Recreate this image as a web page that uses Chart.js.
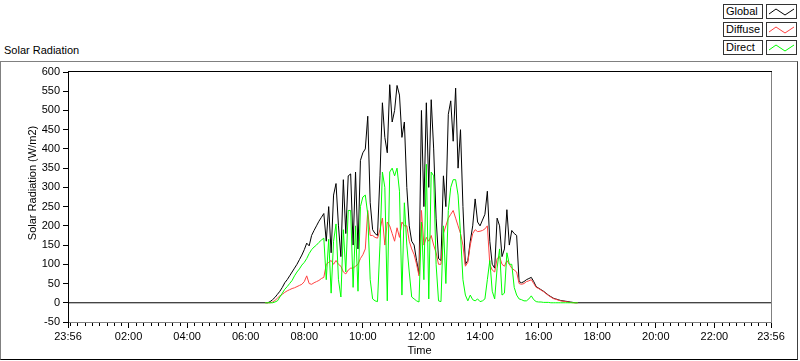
<!doctype html>
<html>
<head>
<meta charset="utf-8">
<title>Solar Radiation</title>
<script src="https://cdn.jsdelivr.net/npm/chart.js@4.4.1/dist/chart.umd.min.js"></script>
<style>
    body { margin: 0; background: #fff; font-family: "Liberation Sans", Arial, sans-serif; font-size: 11px; color: #000; }
    #wrap { position: relative; width: 800px; height: 361px; overflow: hidden; }
    #frame { position: absolute; left: 0; top: 61px; width: 796px; height: 297px;
             border-top: 1px solid #808080; border-left: 1px solid #808080;
             border-right: 1px solid #404040; border-bottom: 1px solid #000; }
    #chart { position: absolute; left: 0; top: 0; }
    #title { position: absolute; left: 4px; top: 44px; line-height: 13px; }
    .lab, .sw { position: absolute; height: 15px; border: 1px solid #333; background: #fff; box-sizing: border-box; }
    .lab { left: 723px; width: 40px; line-height: 13px; padding-left: 2px; }
    .sw { left: 766px; width: 31px; }
</style>
</head>
<body>
<div id="wrap">
    <div id="frame"></div>
    <div id="title">Solar Radiation</div>
    <div id="legend"></div>
    <canvas id="chart" width="800" height="361"></canvas>
</div>

<script>
// minutes after midnight, day samples every 5 minutes from 06:40 to 17:20
var firstSample = 400;
var sampleStep = 5;
var axisStart = -4;    // 23:56 of the previous day
var axisEnd = 1436;    // 23:56

var tickMinutes = [-4, 120, 240, 360, 480, 600, 720, 840, 960, 1080, 1200, 1320, 1436];
var tickLabels = ["23:56", "02:00", "04:00", "06:00", "08:00", "10:00", "12:00",
                  "14:00", "16:00", "18:00", "20:00", "22:00", "23:56"];

var seriesNames = ["Global", "Diffuse", "Direct"];
var seriesColors = ["#000000", "#ff4040", "#00ff00"];

// W/m2
var globalW = [
    0, 0, 3, 8,
    14, 22, 30, 40, 52, 60, 70, 80, 90, 100, 112, 124,
    138, 155, 148, 175, 188, 200, 212, 222, 232, 160, 250, 130,
    280, 310, 200, 120, 320, 180, 330, 335, 150, 340, 140, 370,
    390, 400, 485, 260, 190, 180, 175, 330, 520, 430, 390, 567,
    470, 500, 565, 540, 430, 470, 300, 200, 160, 150, 110, 75,
    500, 250, 520, 300, 528, 400, 220, 115, 110, 330, 250, 490,
    525, 420, 558, 350, 450, 250, 100, 110, 160, 200, 270, 210,
    200, 215, 230, 290, 160, 100, 90, 220, 200, 120, 140, 242,
    150, 188, 180, 175, 55, 52, 55, 60, 63, 66, 55, 42,
    38, 34, 30, 25, 20, 16, 12, 10, 8, 6, 5, 4,
    3, 2, 1, 0, 0
];

var diffuseW = [
    0, 0, 0, 2,
    6, 12, 18, 22, 27, 31, 34, 37, 39, 42, 45, 48,
    55, 70, 50, 48, 52, 55, 58, 63, 66, 100, 105, 110,
    100, 110, 100, 95, 80, 75, 85, 90, 90, 95, 100, 115,
    125, 140, 240, 175, 175, 170, 168, 190, 220, 150, 210, 200,
    180, 160, 195, 170, 210, 200, 200, 160, 140, 125, 100, 70,
    240, 150, 170, 160, 175, 150, 130, 100, 100, 180, 200, 220,
    230, 240, 220, 200, 180, 150, 95, 105, 150, 180, 190, 185,
    186, 188, 192, 200, 100, 85, 80, 115, 120, 100, 95, 110,
    100, 90, 85, 80, 50, 48, 50, 55, 57, 60, 50, 40,
    37, 33, 29, 24, 19, 15, 11, 9, 7, 5, 4, 3,
    2, 1, 0, 0, 0
];

var directW = [
    0, 0, 0, 0,
    2, 5, 15, 25, 35, 42, 50, 58, 70, 80, 88, 98,
    105, 115, 128, 138, 145, 150, 157, 163, 168, 60, 165, 25,
    160, 205, 60, 15, 190, 80, 240, 240, 40, 200, 30, 250,
    275, 280, 230, 60, 10, 5, 3, 150, 340, 300, 5, 340,
    350, 330, 350, 290, 20, 260, 150, 80, 15, 10, 5, 2,
    210, 60, 360, 10, 340, 330, 100, 5, 3, 200, 50, 240,
    300, 320, 320, 280, 180, 60, 20, 5, 20, 8, 5, 10,
    3, 5, 10, 60, 110, 30, 10, 90, 140, 20, 25, 130,
    100, 100, 40, 20, 10, 8, 5, 5, 10, 18, 8, 3,
    2, 2, 1, 1, 1, 0, 0, 0, 0, 0, 0, 0,
    0, 0, 0, 0, 0
];

function toPoints(values) {
    return values.map(function(v, i) { return {x: firstSample + i * sampleStep, y: v}; });
}

// global is logged all day long (zero at night), the other two only in daylight
var globalPoints = [{x: axisStart, y: 0}].concat(toPoints(globalW), [{x: axisEnd, y: 0}]);

// legend boxes
var legend = document.getElementById("legend");
seriesNames.forEach(function(name, i) {
    var top = 4 + i * 18;
    legend.insertAdjacentHTML("beforeend",
        '<div class="lab" style="top:' + top + 'px">' + name + '</div>' +
        '<div class="sw" style="top:' + top + 'px"><svg width="29" height="13">' +
        '<polyline points="2,9 9,4 18,10 27,4" fill="none" stroke="' + seriesColors[i] + '" stroke-width="1"/></svg></div>');
});

var FONT = {family: '"Liberation Sans", Arial, sans-serif', size: 11};
Chart.defaults.font = FONT;
Chart.defaults.color = "#000";

var frameLines = {
    id: "frameLines",
    afterDraw: function(chart) {
        var ctx = chart.ctx, a = chart.chartArea, x = chart.scales.x;
        ctx.save();
        ctx.lineWidth = 1;
        // top edge black, right edge grey
        ctx.strokeStyle = "#000";
        ctx.beginPath();
        ctx.moveTo(a.left, a.top - 0.5);
        ctx.lineTo(a.right + 1, a.top - 0.5);
        ctx.stroke();
        ctx.strokeStyle = "#808080";
        ctx.beginPath();
        ctx.moveTo(a.right + 0.5, a.top);
        ctx.lineTo(a.right + 0.5, a.bottom);
        ctx.stroke();
        // minor ticks every 15 minutes
        ctx.strokeStyle = "#000";
        ctx.beginPath();
        for (var m = 0; m < axisEnd; m += 15) {
            if (tickMinutes.indexOf(m) >= 0) continue;
            var px = Math.round(x.getPixelForValue(m)) + 0.5;
            ctx.moveTo(px, a.bottom + 1);
            ctx.lineTo(px, a.bottom + 4);
        }
        ctx.stroke();
        // y axis title
        ctx.fillStyle = "#000";
        ctx.font = '11px "Liberation Sans", Arial, sans-serif';
        ctx.translate(33, 183);
        ctx.rotate(-Math.PI / 2);
        ctx.textAlign = "center";
        ctx.textBaseline = "middle";
        ctx.fillText("Solar Radiation (W/m2)", 0, 0);
        ctx.restore();
    }
};

function lineSet(i, data, order) {
    return {
        label: seriesNames[i],
        data: data,
        borderColor: seriesColors[i],
        backgroundColor: seriesColors[i],
        borderWidth: 1,
        pointRadius: 0,
        tension: 0,
        fill: false,
        order: order
    };
}

new Chart(document.getElementById("chart"), {
    type: "line",
    data: {
        datasets: [
            lineSet(0, globalPoints, 3),
            lineSet(1, toPoints(diffuseW), 2),
            lineSet(2, toPoints(directW), 1)
        ]
    },
    options: {
        responsive: false,
        animation: false,
        layout: {padding: {left: 0, top: 72, right: 29, bottom: 0}},
        plugins: {legend: {display: false}, tooltip: {enabled: false}},
        scales: {
            x: {
                type: "linear",
                min: axisStart,
                max: axisEnd,
                afterBuildTicks: function(s) {
                    s.ticks = tickMinutes.map(function(v) { return {value: v}; });
                },
                afterFit: function(s) { s.height = 39; },
                ticks: {
                    autoSkip: false,
                    maxRotation: 0,
                    padding: 2,
                    callback: function(v) {
                        var k = tickMinutes.indexOf(v);
                        return k >= 0 ? tickLabels[k] : "";
                    }
                },
                grid: {drawOnChartArea: false, tickLength: 6, color: "#000"},
                border: {color: "#808080"},
                title: {display: true, text: "Time", padding: {top: 0, bottom: 3}}
            },
            y: {
                min: -50,
                max: 600,
                afterFit: function(s) { s.width = 68; },
                ticks: {stepSize: 50, padding: 3},
                grid: {drawOnChartArea: false, tickLength: 5, color: "#000"},
                border: {color: "#000"}
            }
        }
    },
    plugins: [frameLines]
});
</script>
</body>
</html>
